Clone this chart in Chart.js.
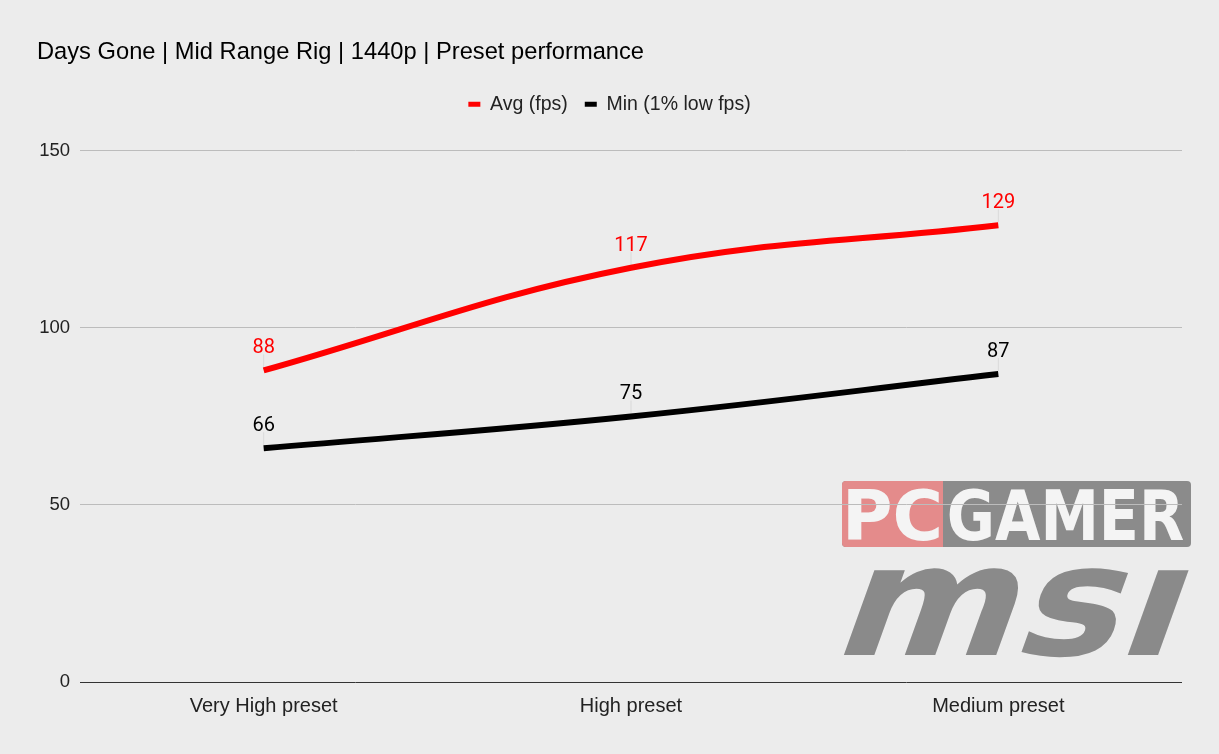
<!DOCTYPE html>
<html><head><meta charset="utf-8">
<script src="https://cdn.jsdelivr.net/npm/chart.js@4"></script>
<style>
html,body{margin:0;padding:0;background:#ececec;}
canvas{display:block;}
</style>
</head><body>
<canvas id="c" width="1219" height="754"></canvas>
<script>
const titleText = 'Days Gone | Mid Range Rig | 1440p | Preset performance';
const categories = ['Very High preset', 'High preset', 'Medium preset'];
const avgFps = [88, 117, 129];
const minFps = [66, 75, 87];
const yTicks = [0, 50, 100, 150];
const seriesNames = ['Avg (fps)', 'Min (1% low fps)'];

const FONT = '"Liberation Sans", Arial, sans-serif';
const LABEL_FONT = 'Roboto, "Liberation Sans", sans-serif';

function fitBox(ctx, text, x0, x1, top, bottom, font, skew) {
  skew = skew || 0;
  ctx.save();
  ctx.font = font;
  ctx.textAlign = 'left';
  ctx.textBaseline = 'alphabetic';
  const m = ctx.measureText(text);
  const inkW = m.actualBoundingBoxLeft + m.actualBoundingBoxRight;
  const inkH = m.actualBoundingBoxAscent + m.actualBoundingBoxDescent;
  const h = bottom - top;
  const sy = h / inkH;
  const sx = ((x1 - x0) - skew * h) / inkW;
  ctx.translate(x0, bottom);
  if (skew) ctx.transform(1, 0, -skew, 1, 0, 0);
  ctx.scale(sx, sy);
  ctx.fillText(text, m.actualBoundingBoxLeft, -m.actualBoundingBoxDescent);
  ctx.restore();
}

const logoPlugin = {
  id: 'logo',
  beforeDraw(chart) {
    const ctx = chart.ctx;
    ctx.save();
    ctx.beginPath();
    ctx.roundRect(842, 481, 349, 66, 4);
    ctx.fillStyle = '#8b8b8b';
    ctx.fill();
    ctx.save();
    ctx.clip();
    ctx.fillStyle = '#e48b8b';
    ctx.fillRect(842, 481, 101, 66);
    ctx.restore();
    ctx.fillStyle = '#f4f4f4';
    fitBox(ctx, 'PC', 848, 939, 488, 541, 'bold 80px "DejaVu Sans"');
    fitBox(ctx, 'GAMER', 949, 1183, 488, 541, 'bold 80px "DejaVu Sans"');
    ctx.fillStyle = '#8a8a8a';
    fitBox(ctx, 'ms\u0131', 843, 1190, 568, 657, 'bold 160px "DejaVu Sans"', 0.36);
    ctx.restore();
  }
};

const legendSpacer = {
  id: 'legendSpacer',
  beforeInit(chart) {
    const fit = chart.legend.fit;
    chart.legend.fit = function () { fit.call(this); this.height += 27; };
  }
};

const dataLabels = {
  id: 'dataLabels',
  afterDatasetsDraw(chart) {
    const ctx = chart.ctx;
    ctx.save();
    ctx.font = '20px ' + LABEL_FONT;
    ctx.textAlign = 'center';
    ctx.textBaseline = 'alphabetic';
    chart.data.datasets.forEach((ds, i) => {
      const meta = chart.getDatasetMeta(i);
      meta.data.forEach((pt, j) => {
        ctx.strokeStyle = 'rgba(0,0,0,0.08)';
        ctx.lineWidth = 1;
        ctx.beginPath();
        ctx.moveTo(pt.x, pt.y - 3);
        ctx.lineTo(pt.x, pt.y - 16);
        ctx.stroke();
        ctx.fillStyle = ds.borderColor;
        ctx.fillText(String(ds.data[j]), pt.x, pt.y - 17);
      });
    });
    ctx.restore();
  }
};

new Chart(document.getElementById('c'), {
  type: 'line',
  data: {
    labels: categories,
    datasets: [
      { label: seriesNames[0], data: avgFps, borderColor: '#ff0000', backgroundColor: '#ff0000',
        borderWidth: 6, tension: 0.4, pointRadius: 0, borderCapStyle: 'butt', fill: false },
      { label: seriesNames[1], data: minFps, borderColor: '#000000', backgroundColor: '#000000',
        borderWidth: 6, tension: 0.4, pointRadius: 0, borderCapStyle: 'butt', fill: false }
    ]
  },
  options: {
    responsive: false,
    animation: false,
    events: [],
    layout: { padding: { left: 37, right: 37, top: 0, bottom: 0 } },
    plugins: {
      title: {
        display: true, text: titleText, align: 'start', color: '#000',
        font: { family: FONT, size: 23.7, weight: 'normal' },
        padding: { top: 38, bottom: 11 }
      },
      legend: {
        display: true, position: 'top', align: 'center',
        labels: {
          usePointStyle: true, pointStyle: 'line', pointStyleWidth: 12, boxHeight: 12,
          color: '#222', font: { family: FONT, size: 19.5 }, padding: 17,
          generateLabels(chart) {
            const items = Chart.defaults.plugins.legend.labels.generateLabels(chart);
            items.forEach(it => { it.lineWidth = 5; });
            return items;
          }
        }
      },
      tooltip: { enabled: false }
    },
    scales: {
      x: {
        offset: true,
        grid: { display: false, drawTicks: false },
        border: { display: false },
        ticks: { color: '#222', font: { family: FONT, size: 20 }, padding: 12, maxRotation: 0 },
        afterFit(s) { s.height = 72; }
      },
      y: {
        min: 0, max: 150,
        afterBuildTicks(s) { s.ticks = yTicks.map(v => ({ value: v })); },
        grid: { drawTicks: false, color: c => (c.tick && c.tick.value === 0) ? '#333333' : '#bcbcbc', lineWidth: 1 },
        border: { display: false },
        ticks: { color: '#222', font: { family: FONT, size: 18.5 }, padding: 10 },
        afterFit(s) { s.width = 43; }
      }
    }
  },
  plugins: [logoPlugin, legendSpacer, dataLabels]
});
</script>
</body></html>
